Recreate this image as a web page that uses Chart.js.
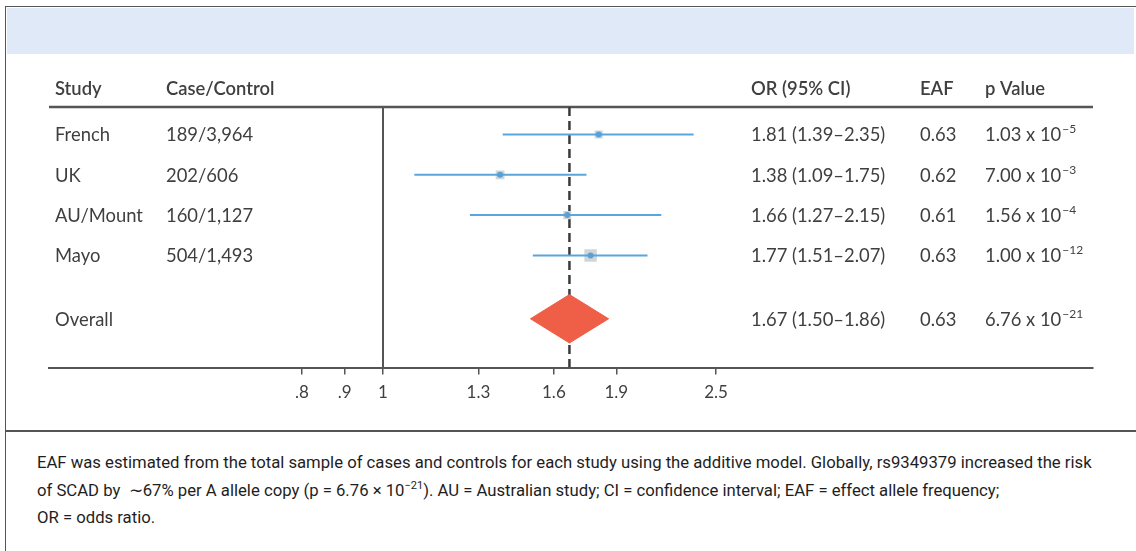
<!DOCTYPE html>
<html>
<head>
<meta charset="utf-8">
<script src="https://cdn.jsdelivr.net/npm/chart.js@4.4.1/dist/chart.umd.min.js"></script>
<style>
  body { margin: 0; width: 1136px; height: 551px; background: #fff; position: relative; overflow: hidden; }
  .frame { position: absolute; left: 5px; top: 6px; right: 0; bottom: 0; border-top: 1.5px solid #555; border-left: 1.5px solid #555; }
  .band { position: absolute; left: 6.5px; top: 7.5px; width: 1127px; height: 46px; background: #dfe9f7; }
  .rule { position: absolute; left: 5px; right: 0; top: 430px; height: 1.5px; background: #555; }
  .chartBox { position: absolute; left: 0; top: 0; width: 1136px; height: 431px; }
  .caption { position: absolute; left: 37px; top: 449px; font-family: "Roboto", sans-serif; font-size: 16.7px; line-height: 27.5px; color: #1e1e1e; white-space: nowrap; }
  .caption sup { font-size: 11px; line-height: 0; }
</style>
</head>
<body>
<div class="frame"></div>
<div class="band"></div>
<div class="chartBox"><canvas id="forest" width="1136" height="431"></canvas></div>
<div class="rule"></div>
<div class="caption">
EAF was estimated from the total sample of cases and controls for each study using the additive model. Globally, rs9349379 increased the risk<br>
of SCAD by &nbsp;∼67% per A allele copy (p = 6.76 × 10<sup>−21</sup>). AU = Australian study; CI = confidence interval; EAF = effect allele frequency;<br>
OR = odds ratio.
</div>
<script>
// study rows
var studies = ['French', 'UK', 'AU/Mount', 'Mayo'];
var caseControl = ['189/3,964', '202/606', '160/1,127', '504/1,493'];
var orValues = [1.81, 1.38, 1.66, 1.77];
var ciLow = [1.39, 1.09, 1.27, 1.51];
var ciHigh = [2.35, 1.75, 2.15, 2.07];
var eaf = ['0.63', '0.62', '0.61', '0.63'];
var pMantissa = ['1.03', '7.00', '1.56', '1.00'];
var pExponent = ['−5', '−3', '−4', '−12'];

// pooled estimate
var overallLabel = 'Overall';
var overallOR = 1.67;
var overallCI = [1.50, 1.86];
var overallEAF = '0.63';
var overallP = ['6.76', '−21'];

var tickValues = [0.8, 0.9, 1, 1.3, 1.6, 1.9, 2.5];
var tickLabels = ['.8', '.9', '1', '1.3', '1.6', '1.9', '2.5'];

// layout bits
var OVERALL_ROW = 4.57;
var Y_MIN = -0.68, Y_MAX = 5.78;
var DIAMOND_HALF = 0.6;
var COLS = { study: 55, cases: 166, or: 751, eaf: 920, p: 985 };
var TEXT = '#3f3f3f';
var FONT = 'Lato';
var SIZE = 18.4;

function fmt(v) { return v.toFixed(2); }

var ciSets = studies.map(function (s, i) {
  return {
    label: s + ' CI',
    data: [{ x: ciLow[i], y: i }, { x: ciHigh[i], y: i }],
    showLine: true,
    borderColor: '#5ba5dd',
    borderWidth: 2,
    pointRadius: 0,
    order: 2
  };
});

var datasets = [
  {
    label: 'estimate',
    data: orValues.map(function (v, i) { return { x: v, y: i }; }),
    backgroundColor: '#56a1da',
    borderWidth: 0,
    pointRadius: 3,
    order: 0
  },
  {
    label: 'overall',
    data: [
      { x: overallCI[0], y: OVERALL_ROW },
      { x: overallOR, y: OVERALL_ROW - DIAMOND_HALF },
      { x: overallCI[1], y: OVERALL_ROW },
      { x: overallOR, y: OVERALL_ROW + DIAMOND_HALF },
      { x: overallCI[0], y: OVERALL_ROW }
    ],
    showLine: true,
    fill: 'shape',
    backgroundColor: '#ef5f48',
    borderColor: '#ef5f48',
    borderWidth: 1,
    pointRadius: 0,
    tension: 0,
    order: 1
  },
  {
    label: 'weight',
    data: orValues.map(function (v, i) { return { x: v, y: i }; }),
    pointStyle: 'rect',
    pointRadius: [5.7, 6.2, 5.7, 8.8],
    backgroundColor: '#d4d4d4',
    borderWidth: 0,
    order: 3
  },
  {
    label: 'overall line',
    data: [{ x: overallOR, y: Y_MIN }, { x: overallOR, y: Y_MAX }],
    showLine: true,
    borderColor: '#3a3a3a',
    borderWidth: 2.5,
    borderDash: [9, 5],
    pointRadius: 0,
    order: 4
  }
].concat(ciSets);

function drawP(ctx, x, y, mant, exp) {
  ctx.font = SIZE + 'px ' + FONT;
  var s = mant + ' x 10';
  ctx.fillText(s, x, y);
  var w = ctx.measureText(s).width;
  ctx.font = '12px ' + FONT;
  ctx.fillText(exp, x + w + 1, y - 8);
}

var tablePlugin = {
  id: 'forestTable',
  beforeDatasetsDraw: function (chart) {
    var ctx = chart.ctx, a = chart.chartArea, x = chart.scales.x;
    ctx.save();
    ctx.strokeStyle = '#555';
    ctx.lineWidth = 2.5;
    ctx.beginPath();
    ctx.moveTo(a.left, a.top);
    ctx.lineTo(a.right, a.top);
    ctx.stroke();
    ctx.lineWidth = 2;
    var x1 = Math.round(x.getPixelForValue(1));
    ctx.beginPath();
    ctx.moveTo(x1, a.top);
    ctx.lineTo(x1, a.bottom);
    ctx.stroke();
    ctx.restore();
  },
  afterDraw: function (chart) {
    var ctx = chart.ctx, a = chart.chartArea, y = chart.scales.y;
    ctx.save();
    ctx.fillStyle = TEXT;
    ctx.textAlign = 'left';
    ctx.textBaseline = 'alphabetic';

    var hy = a.top - 12;
    ctx.font = '600 ' + SIZE + 'px ' + FONT;
    ctx.fillText('Study', COLS.study, hy);
    ctx.fillText('Case/Control', COLS.cases, hy);
    ctx.fillText('OR (95% CI)', COLS.or, hy);
    ctx.fillText('EAF', COLS.eaf, hy);
    ctx.fillText('p Value', COLS.p, hy);

    studies.forEach(function (s, i) {
      var ry = y.getPixelForValue(i) + 7;
      ctx.font = SIZE + 'px ' + FONT;
      ctx.fillText(s, COLS.study, ry);
      ctx.fillText(caseControl[i], COLS.cases, ry);
      ctx.fillText(fmt(orValues[i]) + ' (' + fmt(ciLow[i]) + '–' + fmt(ciHigh[i]) + ')', COLS.or, ry);
      ctx.fillText(eaf[i], COLS.eaf, ry);
      drawP(ctx, COLS.p, ry, pMantissa[i], pExponent[i]);
    });

    var oy = y.getPixelForValue(OVERALL_ROW) + 7;
    ctx.font = SIZE + 'px ' + FONT;
    ctx.fillText(overallLabel, COLS.study, oy);
    ctx.fillText(fmt(overallOR) + ' (' + fmt(overallCI[0]) + '–' + fmt(overallCI[1]) + ')', COLS.or, oy);
    ctx.fillText(overallEAF, COLS.eaf, oy);
    drawP(ctx, COLS.p, oy, overallP[0], overallP[1]);
    ctx.restore();
  }
};

var chart = new Chart(document.getElementById('forest'), {
  type: 'scatter',
  data: { datasets: datasets },
  plugins: [tablePlugin],
  options: {
    responsive: false,
    animation: false,
    devicePixelRatio: 1,
    layout: { padding: { left: 49, right: 43, top: 107, bottom: 20 } },
    plugins: { legend: { display: false }, tooltip: { enabled: false } },
    scales: {
      x: {
        type: 'logarithmic',
        min: 0.399,
        max: 7.05,
        bounds: 'data',
        afterBuildTicks: function (scale) {
          scale.ticks = tickValues.map(function (v) { return { value: v }; });
        },
        border: { display: true, color: '#555', width: 2 },
        grid: { drawOnChartArea: false, drawTicks: true, tickLength: 7, color: '#555', lineWidth: 1.5 },
        ticks: {
          autoSkip: false,
          maxRotation: 0,
          padding: 8,
          color: TEXT,
          font: { family: FONT, size: 17 },
          callback: function (v, i) { return tickLabels[i]; }
        }
      },
      y: {
        type: 'linear',
        display: false,
        reverse: true,
        min: Y_MIN,
        max: Y_MAX
      }
    }
  }
});
</script>
</body>
</html>
